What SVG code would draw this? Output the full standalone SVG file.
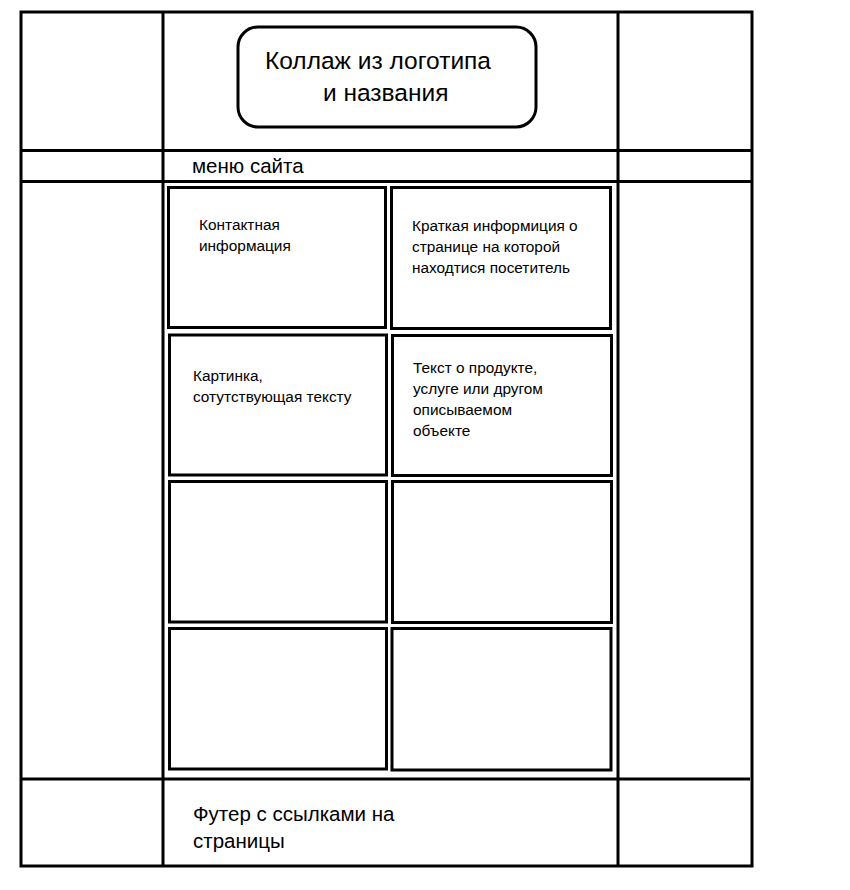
<svg xmlns="http://www.w3.org/2000/svg" width="850" height="890" viewBox="0 0 850 890">
<style>
.ln{stroke:#000;stroke-width:3;fill:none}
.bx{stroke:#000;stroke-width:3;fill:#fff}
text{font-family:"Liberation Sans",Arial,sans-serif;fill:#000}
.t1{font-size:24.5px}
.t2{font-size:20.5px}
.t3{font-size:15.4px}
</style>
<rect width="850" height="890" fill="#fff"/>
<g id="layout">
<rect class="ln" x="21" y="12" width="731" height="854"/>
<line class="ln" x1="163" y1="12" x2="163" y2="866"/>
<line class="ln" x1="618" y1="12" x2="618" y2="866"/>
<line class="ln" x1="21" y1="150.5" x2="752" y2="150.5"/>
<line class="ln" x1="21" y1="181.5" x2="752" y2="181.5"/>
<line class="ln" x1="21" y1="779" x2="750" y2="779"/>
</g>
<g id="logo">
<rect class="bx" x="238" y="27" width="298" height="100" rx="20" ry="20"/>
<text class="t1" x="265" y="69">Коллаж из логотипа</text>
<text class="t1" x="323" y="101">и названия</text>
</g>
<g id="menu">
<text class="t2" x="192" y="173">меню сайта</text>
</g>
<g id="box1">
<rect class="bx" x="168.5" y="187.5" width="217" height="140"/>
<text class="t3" x="199" y="230">Контактная</text>
<text class="t3" x="199" y="251">информация</text>
</g>
<g id="box2">
<rect class="bx" x="391.5" y="187.5" width="219" height="141"/>
<text class="t3" x="412" y="231">Краткая информиция о</text>
<text class="t3" x="412" y="252">странице на которой</text>
<text class="t3" x="412" y="273">находтися посетитель</text>
</g>
<g id="box3">
<rect class="bx" x="169.5" y="335" width="217" height="140"/>
<text class="t3" x="193" y="381">Картинка,</text>
<text class="t3" x="193" y="402">сотутствующая тексту</text>
</g>
<g id="box4">
<rect class="bx" x="392.5" y="335.5" width="219" height="140"/>
<text class="t3" x="413" y="373">Текст о продукте,</text>
<text class="t3" x="413" y="394">услуге или другом</text>
<text class="t3" x="413" y="415">описываемом</text>
<text class="t3" x="413" y="436">объекте</text>
</g>
<g id="box5">
<rect class="bx" x="169.5" y="481.5" width="217" height="140.5"/>
</g>
<g id="box6">
<rect class="bx" x="392.5" y="481.5" width="219" height="141"/>
</g>
<g id="box7">
<rect class="bx" x="169.5" y="628.5" width="217" height="140.5"/>
</g>
<g id="box8">
<rect class="bx" x="392" y="628.5" width="219" height="141.5"/>
</g>
<g id="footer">
<text class="t2" x="193" y="821">Футер с ссылками на</text>
<text class="t2" x="193" y="848">страницы</text>
</g>
</svg>
